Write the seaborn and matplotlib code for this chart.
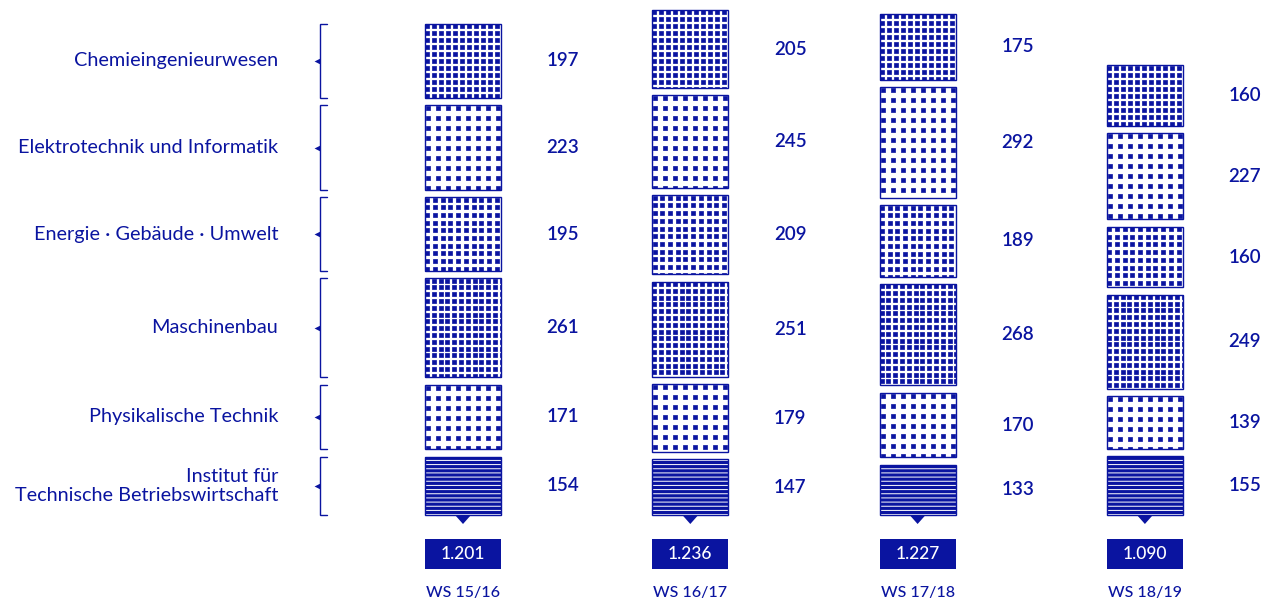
import numpy as np
import pandas as pd
import matplotlib
matplotlib.use("Agg")
import matplotlib.pyplot as plt
import seaborn as sns

# --- data -------------------------------------------------------------
semesters = ["WS 15/16", "WS 16/17", "WS 17/18", "WS 18/19"]
categories = ["Chemieingenieurwesen", "Elektrotechnik und Informatik",
              "Energie · Gebäude · Umwelt", "Maschinenbau",
              "Physikalische Technik", "Institut für\nTechnische Betriebswirtschaft"]
chemie = [197, 205, 175, 160]
elektro = [223, 245, 292, 227]
energie = [195, 209, 189, 160]
maschinenbau = [261, 251, 268, 249]
physik = [171, 179, 170, 139]
institut = [154, 147, 133, 155]

# --- layout / style ----------------------------------------------------
BLUE = "#0A14A0"
W, H = 1269, 603
PX_X = 227.3      # pixels per semester step
X0_PX = 463       # pixel x of first semester
PX_Y = 0.378      # pixels per student
BASE_PX = 515     # pixel y (from top) of stack base
GAP = 7.5 / PX_Y
BAR_W = 76 / PX_X

# (spacing px, dot size px) per category; None -> stripes
patterns = [(7.0, 3.6), (10.0, 3.4), (7.7, 3.5), (6.8, 3.5), (10.0, 3.4), None]

sns.set_theme(style="white")
plt.rcParams["font.family"] = ["Lato", "DejaVu Sans"]
plt.rcParams["hatch.linewidth"] = 0.7

fig = plt.figure(figsize=(W / 100, H / 100), dpi=100)
ax = fig.add_axes([0, 0, 1, 1])

values = [chemie, elektro, energie, maschinenbau, physik, institut]
# stack from bottom (Institut) to top (Chemie)
order = list(range(len(categories)))[::-1]
bottoms = np.zeros(len(semesters))
extents = {}

for k in order:
    vals = np.array(values[k], dtype=float)
    df = pd.DataFrame({"semester": semesters, "value": vals})
    pat = patterns[k]
    if pat is None:
        sns.barplot(data=df, x="semester", y="value", bottom=bottoms, width=BAR_W,
                    color=BLUE, saturation=1, edgecolor="white", linewidth=0,
                    hatch="----", errorbar=None, ax=ax, zorder=2)
    else:
        sns.barplot(data=df, x="semester", y="value", bottom=bottoms, width=BAR_W,
                    color="white", saturation=1, linewidth=0, errorbar=None,
                    ax=ax, zorder=2)
    bars = ax.containers[-1]
    for j, bar in enumerate(bars):
        x0, y0 = bar.get_x(), bar.get_y()
        w, h = bar.get_width(), bar.get_height()
        if pat is not None:
            sp, dot = pat
            sx, sy = sp / PX_X, sp / PX_Y
            xs = np.arange(x0 + 0.3 * sx, x0 + w + sx, sx)
            ys = np.arange(y0 + h - 0.3 * sy, y0 - sy, -sy)
            gx, gy = np.meshgrid(xs, ys)
            sc = ax.scatter(gx.ravel(), gy.ravel(), marker="s", s=(dot * 0.72) ** 2,
                            color=BLUE, edgecolors=BLUE, linewidths=0.5, zorder=3)
            sc.set_clip_path(bar)
        ax.bar(x0, h, bottom=y0, width=w, align="edge", fill=False,
               edgecolor=BLUE, linewidth=1.0, zorder=4)
        ax.text(x0 + w / 2 + 100 / PX_X, y0 + h / 2, f"{int(values[k][j])}",
                ha="center", va="center", fontsize=13.5, fontweight="semibold", color=BLUE)
    extents[k] = (bottoms[0], bottoms[0] + vals[0])
    bottoms = bottoms + vals + GAP

# category brackets and labels (aligned to first semester)
xb = (320 - X0_PX) / PX_X
xt = (327 - X0_PX) / PX_X
for k, name in enumerate(categories):
    lo, hi = extents[k]
    ax.plot([xt, xb, xb, xt], [hi, hi, lo, lo], color=BLUE, lw=1.0, solid_joinstyle="miter")
    mid = (lo + hi) / 2
    ax.scatter([(316.5 - X0_PX) / PX_X], [mid], marker="<", s=18, color=BLUE, linewidths=0)
    ax.text((278 - X0_PX) / PX_X, mid, name, ha="right", va="center",
            fontsize=14.3, color=BLUE, linespacing=1.1)

# totals
totals = [sum(v[j] for v in values) for j in range(len(semesters))]
box_top = -(539 - BASE_PX) / PX_Y
box_bot = -(569 - BASE_PX) / PX_Y
tri_w, tri_h = 8 / PX_X, 9 / PX_Y
for j, (sem, tot) in enumerate(zip(semesters, totals)):
    ax.fill([j - tri_w, j + tri_w, j], [0, 0, -tri_h], color=BLUE, lw=0, zorder=3)
    ax.bar(j, box_top - box_bot, bottom=box_bot, width=BAR_W, color=BLUE, lw=0)
    ax.text(j, (box_top + box_bot) / 2, f"{tot:,}".replace(",", "."), ha="center",
            va="center", fontsize=12.5, color="white", fontweight="medium")
    ax.text(j, -(593 - BASE_PX) / PX_Y, sem, ha="center", va="center",
            fontsize=11.5, color=BLUE, fontweight="medium")

ax.set_xlim(-X0_PX / PX_X, (W - X0_PX) / PX_X)
ax.set_ylim(-(H - BASE_PX) / PX_Y, BASE_PX / PX_Y)
ax.axis("off")

fig.savefig("out.png", dpi=100)
